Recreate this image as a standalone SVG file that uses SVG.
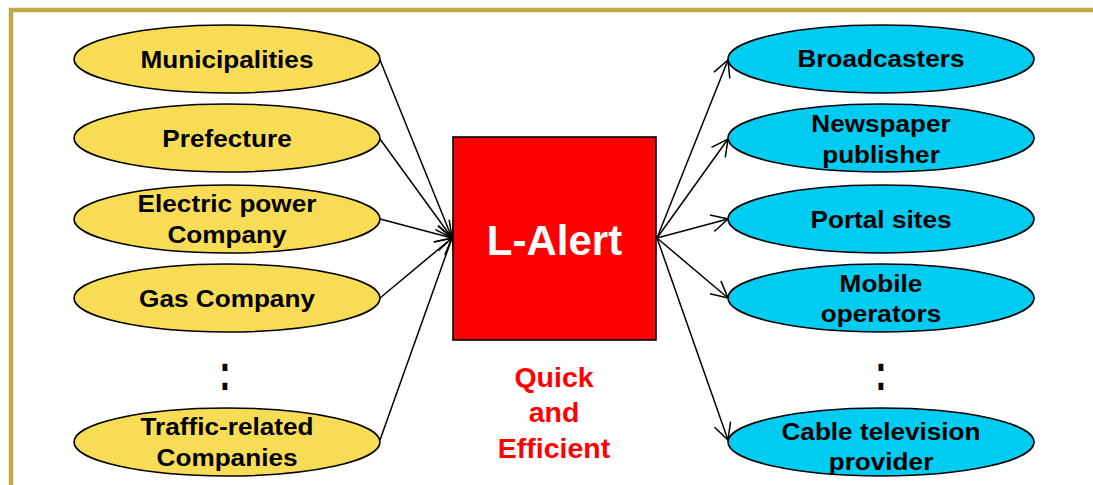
<svg xmlns="http://www.w3.org/2000/svg" width="1093" height="485" viewBox="0 0 1093 485">
<defs>
<style>
.frame{fill:none;stroke:#C1A94A;stroke-width:4.5}
.src{fill:#F9DC55;stroke:#000;stroke-width:1.6}
.dst{fill:#00CCF2;stroke:#000;stroke-width:1.6}
.lbl{font-family:"Liberation Sans",Arial,sans-serif;font-weight:bold;font-size:24px;fill:#000;text-anchor:middle}
.conn{stroke:#000;stroke-width:1.5;fill:none;marker-end:url(#arr)}
.red{font-family:"Liberation Sans",Arial,sans-serif;font-weight:bold;font-size:28.5px;fill:#FF0000;text-anchor:middle}
.dots{font-family:"Liberation Sans",Arial,sans-serif;font-weight:bold;font-size:34px;fill:#000;text-anchor:middle}
</style>
<marker id="arr" markerUnits="userSpaceOnUse" markerWidth="24" markerHeight="24" refX="17" refY="9" orient="auto" overflow="visible">
<path d="M0.5,0.5 L17,9 L0.5,17.5" fill="none" stroke="#000" stroke-width="1.5"/>
</marker>
</defs>
<rect width="1093" height="485" fill="#fff"/>
<rect class="frame" x="11" y="10" width="1110" height="500"/>

<g id="connectors">
<line class="conn" x1="380" y1="60" x2="452" y2="238"/>
<line class="conn" x1="380" y1="139" x2="452" y2="238"/>
<line class="conn" x1="380" y1="219" x2="452" y2="238"/>
<line class="conn" x1="380" y1="298" x2="452" y2="238"/>
<line class="conn" x1="380" y1="440" x2="452" y2="238"/>
<line class="conn" x1="657" y1="238" x2="728" y2="60"/>
<line class="conn" x1="657" y1="238" x2="728" y2="139"/>
<line class="conn" x1="657" y1="238" x2="728" y2="219"/>
<line class="conn" x1="657" y1="238" x2="728" y2="298"/>
<line class="conn" x1="657" y1="238" x2="728" y2="440"/>
</g>

<g id="municipalities">
<ellipse class="src" cx="227" cy="59" rx="153" ry="34"/>
<text class="lbl" transform="translate(227,68) scale(1.09,1)">Municipalities</text>
</g>
<g id="prefecture">
<ellipse class="src" cx="227" cy="138" rx="153" ry="34"/>
<text class="lbl" transform="translate(227,147) scale(1.09,1)">Prefecture</text>
</g>
<g id="electric">
<ellipse class="src" cx="227" cy="219" rx="153" ry="34"/>
<text class="lbl" transform="translate(227,211.5) scale(1.09,1)">Electric power</text>
<text class="lbl" transform="translate(227,243) scale(1.09,1)">Company</text>
</g>
<g id="gas">
<ellipse class="src" cx="227" cy="298" rx="153" ry="34"/>
<text class="lbl" transform="translate(227,307) scale(1.09,1)">Gas Company</text>
</g>
<g id="left-dots">
<text class="dots" transform="translate(225,390) scale(1,1.5)">:</text>
</g>
<g id="traffic">
<ellipse class="src" cx="227" cy="442" rx="153" ry="34"/>
<text class="lbl" transform="translate(227,435) scale(1.09,1)">Traffic-related</text>
<text class="lbl" transform="translate(227,466) scale(1.09,1)">Companies</text>
</g>

<g id="lalert">
<rect x="453" y="137" width="203" height="203" fill="#FF0000" stroke="#000" stroke-width="1.6"/>
<text x="554.5" y="255" font-family="Liberation Sans, Arial, sans-serif" font-weight="bold" font-size="42" fill="#fff" text-anchor="middle">L-Alert</text>
</g>
<g id="tagline">
<text class="red" x="554" y="387">Quick</text>
<text class="red" x="554" y="422">and</text>
<text class="red" x="554" y="458">Efficient</text>
</g>

<g id="broadcasters">
<ellipse class="dst" cx="881" cy="59" rx="153" ry="34"/>
<text class="lbl" transform="translate(881,67) scale(1.09,1)">Broadcasters</text>
</g>
<g id="newspaper">
<ellipse class="dst" cx="881" cy="138" rx="153" ry="34"/>
<text class="lbl" transform="translate(881,132) scale(1.09,1)">Newspaper</text>
<text class="lbl" transform="translate(881,163) scale(1.09,1)">publisher</text>
</g>
<g id="portal">
<ellipse class="dst" cx="881" cy="219" rx="153" ry="34"/>
<text class="lbl" transform="translate(881,228) scale(1.09,1)">Portal sites</text>
</g>
<g id="mobile">
<ellipse class="dst" cx="881" cy="298" rx="153" ry="34"/>
<text class="lbl" transform="translate(881,292) scale(1.09,1)">Mobile</text>
<text class="lbl" transform="translate(881,322) scale(1.09,1)">operators</text>
</g>
<g id="right-dots">
<text class="dots" transform="translate(881,390) scale(1,1.5)">:</text>
</g>
<g id="cable">
<ellipse class="dst" cx="881" cy="442" rx="153" ry="34"/>
<text class="lbl" transform="translate(881,440) scale(1.09,1)">Cable television</text>
<text class="lbl" transform="translate(881,470) scale(1.09,1)">provider</text>
</g>
</svg>
